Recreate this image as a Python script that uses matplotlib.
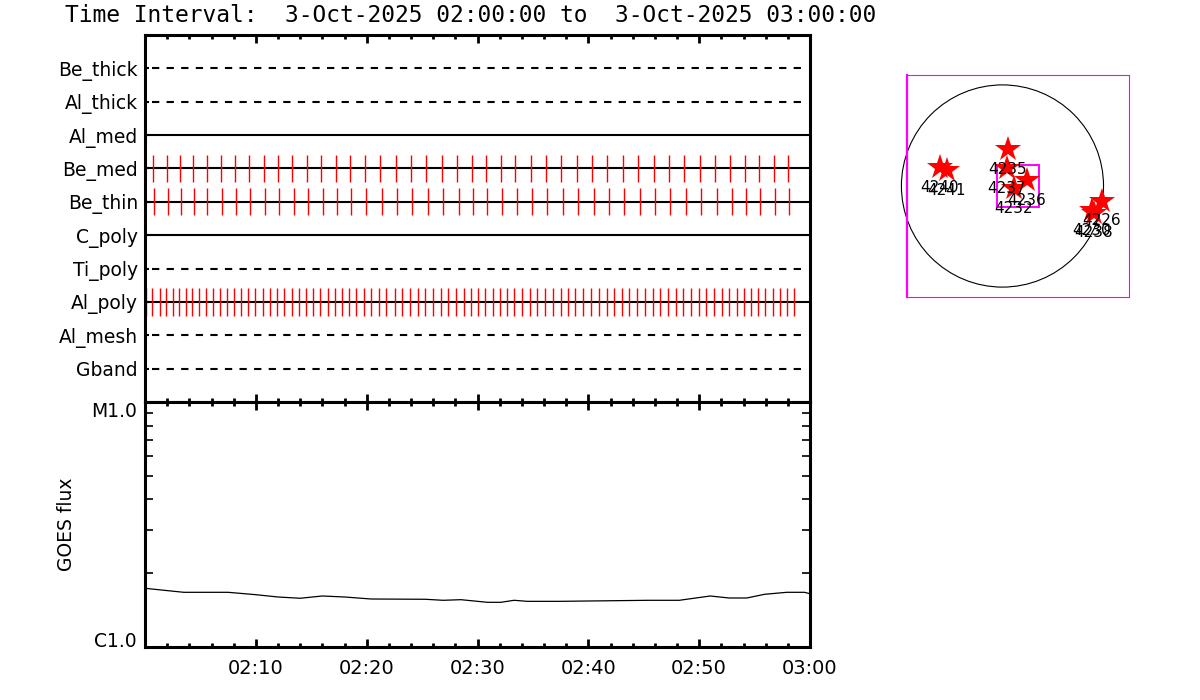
import numpy as np
import matplotlib
matplotlib.use("Agg")
import matplotlib.pyplot as plt
from matplotlib.patches import Circle, Rectangle
from matplotlib.ticker import FixedLocator, MultipleLocator, NullFormatter

# channel rows, top to bottom
channels = ["Be_thick", "Al_thick", "Al_med", "Be_med", "Be_thin",
            "C_poly", "Ti_poly", "Al_poly", "Al_mesh", "Gband"]
dashed = ["Be_thick", "Al_thick", "Ti_poly", "Al_mesh", "Gband"]

# exposure times, minutes after 02:00
be_med_times = [0.75, 2.01, 3.18, 4.36, 5.62, 6.88, 8.15, 9.41, 10.76, 12.03,
                13.29, 14.64, 15.91, 17.26, 18.52, 19.88, 21.23, 22.67, 24.03, 25.38,
                26.82, 28.18, 29.53, 30.79, 32.15, 33.41, 34.85, 36.21, 37.56, 39.01,
                40.36, 41.71, 43.16, 44.51, 45.95, 47.31, 48.66, 50.10, 51.46, 52.81,
                54.16, 55.43, 56.78, 58.04]
be_thin_times = [0.84, 2.10, 3.28, 4.45, 5.62, 6.97, 8.24, 9.50, 10.85, 12.12,
                 13.47, 14.73, 16.09, 17.35, 18.61, 19.97, 21.41, 22.76, 24.12, 25.56,
                 26.91, 28.36, 29.62, 30.88, 32.24, 33.59, 34.94, 36.30, 37.74, 39.09,
                 40.54, 41.89, 43.25, 44.69, 46.04, 47.40, 48.84, 50.19, 51.64, 52.99,
                 54.25, 55.52, 56.87, 58.13]
al_poly_times = [0.09, 0.66, 1.38, 1.92, 2.55, 3.09, 3.73, 4.27, 4.90, 5.53,
                 6.16, 6.79, 7.43, 8.06, 8.69, 9.32, 9.95, 10.67, 11.31, 11.94,
                 12.57, 13.29, 13.92, 14.55, 15.19, 15.82, 16.54, 17.17, 17.80, 18.43,
                 19.06, 19.79, 20.42, 21.14, 21.77, 22.58, 23.22, 23.94, 24.66, 25.29,
                 26.01, 26.73, 27.36, 28.09, 28.81, 29.44, 30.07, 30.70, 31.43, 32.06,
                 32.69, 33.32, 34.04, 34.76, 35.39, 36.12, 36.84, 37.56, 38.19, 38.82,
                 39.55, 40.27, 40.99, 41.71, 42.34, 43.07, 43.70, 44.42, 45.14, 45.87,
                 46.50, 47.22, 47.94, 48.57, 49.29, 50.02, 50.65, 51.37, 52.09, 52.72,
                 53.44, 54.07, 54.71, 55.34, 55.97, 56.69, 57.32, 57.95, 58.58]
exposures = {"Be_med": be_med_times, "Be_thin": be_thin_times, "Al_poly": al_poly_times}

# GOES long channel flux (W/m^2)
goes_t = [0, 3.5, 7.5, 10, 12, 14, 16, 18, 20.4, 25.3, 26.9, 28.5, 30.9, 32.1,
          33.3, 34.5, 37.4, 45.4, 48.2, 51, 52.7, 54.3, 55.9, 57.9, 59.5, 60]
goes_flux = np.array([1.736, 1.672, 1.672, 1.635, 1.600, 1.581, 1.615, 1.600, 1.570,
                      1.566, 1.551, 1.560, 1.522, 1.522, 1.551, 1.536, 1.536, 1.551,
                      1.551, 1.615, 1.585, 1.585, 1.641, 1.672, 1.672, 1.650]) * 1e-6

time_labels = ["02:10", "02:20", "02:30", "02:40", "02:50", "03:00"]

# active regions on the disk (arcsec)
ar_names = ["4240", "4241", "4235", "4237", "4236", "4232", "4226", "4230", "4238"]
ar_x = [-594, -527, 52, 43, 233, 109, 945, 850, 869]
ar_y = [180, 152, 351, 171, 57, -19, -142, -228, -256]

fov_x, fov_y, fov_w, fov_h = -49, -200, 396, 397

W, H = 1200, 700
fig = plt.figure(figsize=(12, 7), dpi=100)
plt.rcParams['font.family'] = ['DejaVu Sans']

fig.text(65 / W, 1 - 16 / H,
         "Time Interval:  3-Oct-2025 02:00:00 to  3-Oct-2025 03:00:00",
         fontsize=16.5, family="DejaVu Sans Mono", ha="left", va="center")

# ---- top panel: channels ----
ax1 = fig.add_axes([145 / W, 1 - 402 / H, 665 / W, 367 / H])
n = len(channels)
rows = {name: n - i for i, name in enumerate(channels)}
for name in channels:
    y = rows[name]
    if name in dashed:
        ln = ax1.axhline(y, color="black", lw=1.5, xmin=0.01, xmax=0.997)
        ln.set_dashes((3.5, 3.5))
    else:
        ax1.axhline(y, color="black", lw=1.5)
    if name in exposures:
        ax1.vlines(exposures[name], y - 0.41, y + 0.41, color="red", lw=1.0)

ax1.set_xlim(0, 60)
ax1.set_ylim(0, n + 1)
ax1.set_yticks([rows[c] for c in channels])
ax1.set_yticklabels(channels, fontsize=13.5)
ax1.xaxis.set_major_locator(MultipleLocator(10))
ax1.xaxis.set_minor_locator(MultipleLocator(2))
ax1.xaxis.set_major_formatter(NullFormatter())
ax1.tick_params(axis="x", which="major", direction="in", top=True, bottom=True,
                length=6, width=2)
ax1.tick_params(axis="x", which="minor", direction="in", top=True, bottom=True,
                length=3, width=2)
ax1.tick_params(axis="y", direction="in", length=3, width=1.5, pad=5)
for sp in ax1.spines.values():
    sp.set_linewidth(2.2)

# ---- bottom panel: GOES ----
ax2 = fig.add_axes([145 / W, 1 - 647 / H, 665 / W, 245 / H])
ax2.plot(goes_t, goes_flux, color="black", lw=0.9)
ax2.set_yscale("log")
ax2.set_ylim(1e-6, 1e-5)
ax2.set_xlim(0, 60)
ax2.yaxis.set_major_locator(FixedLocator([1e-6, 1e-5]))
ax2.set_yticklabels(["C1.0", "M1.0"], fontsize=13.5)
ax2.yaxis.set_minor_locator(FixedLocator([k * 1e-6 for k in range(2, 10)]))
ax2.yaxis.set_minor_formatter(NullFormatter())
ax2.tick_params(axis="y", which="both", direction="in", left=True, right=True,
                length=6, width=1.2, pad=6)
labs = ax2.get_yticklabels()
labs[0].set_va("baseline")
labs[1].set_va("top")
ax2.xaxis.set_major_locator(FixedLocator([10, 20, 30, 40, 50, 60]))
ax2.set_xticklabels(time_labels, fontsize=14)
ax2.xaxis.set_minor_locator(MultipleLocator(2))
ax2.tick_params(axis="x", which="major", direction="in", top=True, bottom=True,
                length=6, width=2, pad=9)
ax2.tick_params(axis="x", which="minor", direction="in", top=True, bottom=True,
                length=3, width=2)
ax2.set_ylabel("GOES flux", fontsize=13.5, labelpad=11)
for sp in ax2.spines.values():
    sp.set_linewidth(2.2)

# ---- solar disk ----
ax3 = fig.add_axes([907 / W, 1 - 297 / H, 222 / W, 222 / H])
ax3.set_xlim(-907, 1202)
ax3.set_ylim(-1054, 1054)
ax3.set_xticks([])
ax3.set_yticks([])
for sp in ax3.spines.values():
    sp.set_color("magenta")
    sp.set_linewidth(0.8)
ax3.spines["left"].set_linewidth(1.6)
ax3.add_patch(Circle((0, 0), 960, fill=False, color="black", lw=0.8, clip_on=False))
ax3.add_patch(Rectangle((fov_x, fov_y), fov_w, fov_h, fill=False,
                        edgecolor="magenta", lw=1.4, zorder=3))
ax3.plot(ar_x, ar_y, "*", color="red", ms=19, mew=0, clip_on=False, zorder=4)
for name, x, y in zip(ar_names, ar_x, ar_y):
    ax3.text(x, y - 190, name, ha="center", va="center", fontsize=11, zorder=5)

fig.savefig("out.png", dpi=100)
